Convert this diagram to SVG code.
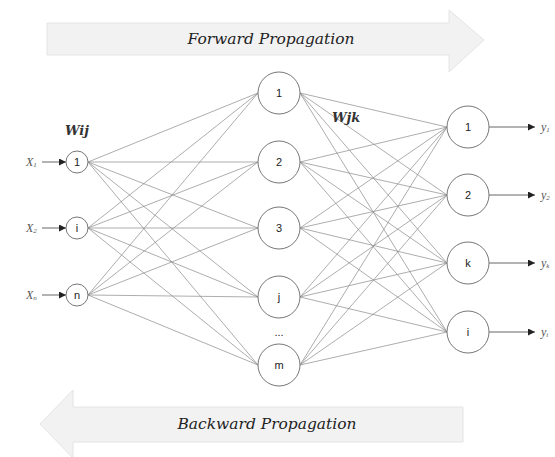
<svg xmlns="http://www.w3.org/2000/svg" width="555" height="457" viewBox="0 0 555 457">
<defs>
<marker id="ah" viewBox="0 0 10 10" refX="10" refY="5" markerWidth="8" markerHeight="7" markerUnits="userSpaceOnUse" orient="auto"><path d="M0,0 L10,5 L0,10 z" fill="#222"/></marker>
</defs>
<style>
.bigarrow{fill:#f2f2f2;stroke:#e4e4e4;stroke-width:1}
.banner{font-family:"DejaVu Serif","Liberation Serif",serif;font-style:italic;font-size:15px;fill:#222}
.w{font-family:"DejaVu Serif","Liberation Serif",serif;font-style:italic;font-weight:bold;font-size:13px;fill:#333}
.node{fill:#fff;stroke:#777;stroke-width:1}
.nl{font-family:"Liberation Sans",Arial,sans-serif;font-size:11px;fill:#222;text-anchor:middle}
.edge{stroke:#8a8a8a;stroke-width:0.7;fill:none}
.io{stroke:#666;stroke-width:1;fill:none}
.lab{font-family:"Liberation Serif",serif;font-style:italic;font-size:12px;fill:#555}
.sub{font-size:7px}
</style>
<rect width="555" height="457" fill="#fff"/>
<g id="forward">
<path class="bigarrow" d="M47,23 H449 V10 L484,40 L449,72 V55 H47 Z"/>
<text class="banner" x="271" y="44" text-anchor="middle" textLength="167" lengthAdjust="spacingAndGlyphs">Forward Propagation</text>
</g>
<g id="backward">
<path class="bigarrow" d="M463,407 H73 V390 L40,424 L73,458 V442 H463 Z"/>
<text class="banner" x="267" y="429" text-anchor="middle" textLength="179" lengthAdjust="spacingAndGlyphs">Backward Propagation</text>
</g>
<g id="connectors">
<path class="edge" d="M88,162 L258,93 M88,162 L258,162 M88,162 L258,228 M88,162 L258,297 M88,162 L258,365
M88,228 L258,93 M88,228 L258,162 M88,228 L258,228 M88,228 L258,297 M88,228 L258,365
M88,295 L258,93 M88,295 L258,162 M88,295 L258,228 M88,295 L258,297 M88,295 L258,365"/>
<path class="edge" d="M300,93 L447,127 M300,93 L447,195 M300,93 L447,263 M300,93 L447,332
M300,162 L447,127 M300,162 L447,195 M300,162 L447,263 M300,162 L447,332
M300,228 L447,127 M300,228 L447,195 M300,228 L447,263 M300,228 L447,332
M300,297 L447,127 M300,297 L447,195 M300,297 L447,263 M300,297 L447,332
M300,365 L447,127 M300,365 L447,195 M300,365 L447,263 M300,365 L447,332"/>
<path class="io" marker-end="url(#ah)" d="M42,162 L66,162"/>
<path class="io" marker-end="url(#ah)" d="M42,228 L66,228"/>
<path class="io" marker-end="url(#ah)" d="M42,295 L66,295"/>
<path class="io" marker-end="url(#ah)" d="M489,127 L535,127"/>
<path class="io" marker-end="url(#ah)" d="M489,195 L535,195"/>
<path class="io" marker-end="url(#ah)" d="M489,263 L535,263"/>
<path class="io" marker-end="url(#ah)" d="M489,332 L535,332"/>
</g>
<g id="labels">
<text class="w" x="65" y="135">Wij</text>
<text class="w" x="332" y="122">Wjk</text>
<text class="lab" x="26" y="166">X<tspan class="sub" dy="1">1</tspan></text>
<text class="lab" x="26" y="232">X<tspan class="sub" dy="1">2</tspan></text>
<text class="lab" x="26" y="299">X<tspan class="sub" dy="1">n</tspan></text>
<text class="lab" x="541" y="131">y<tspan class="sub" dy="1">1</tspan></text>
<text class="lab" x="541" y="199">y<tspan class="sub" dy="1">2</tspan></text>
<text class="lab" x="541" y="267">y<tspan class="sub" dy="1">k</tspan></text>
<text class="lab" x="541" y="336">y<tspan class="sub" dy="1">i</tspan></text>
<text class="nl" x="279" y="336" font-size="9">...</text>
</g>
<g id="in1"><circle class="node" cx="77" cy="162" r="11"/><text class="nl" x="77" y="166">1</text></g>
<g id="in_i"><circle class="node" cx="77" cy="228" r="11"/><text class="nl" x="77" y="232">i</text></g>
<g id="in_n"><circle class="node" cx="77" cy="295" r="11"/><text class="nl" x="77" y="299">n</text></g>
<g id="h1"><circle class="node" cx="279" cy="93" r="21"/><text class="nl" x="279" y="97">1</text></g>
<g id="h2"><circle class="node" cx="279" cy="162" r="21"/><text class="nl" x="279" y="166">2</text></g>
<g id="h3"><circle class="node" cx="279" cy="228" r="21"/><text class="nl" x="279" y="232">3</text></g>
<g id="hj"><circle class="node" cx="279" cy="297" r="21"/><text class="nl" x="279" y="301">j</text></g>
<g id="hm"><circle class="node" cx="279" cy="365" r="21"/><text class="nl" x="279" y="369">m</text></g>
<g id="o1"><circle class="node" cx="468" cy="127" r="21"/><text class="nl" x="468" y="131">1</text></g>
<g id="o2"><circle class="node" cx="468" cy="195" r="21"/><text class="nl" x="468" y="199">2</text></g>
<g id="ok"><circle class="node" cx="468" cy="263" r="21"/><text class="nl" x="468" y="267">k</text></g>
<g id="oi"><circle class="node" cx="468" cy="332" r="21"/><text class="nl" x="468" y="336">i</text></g>
</svg>
